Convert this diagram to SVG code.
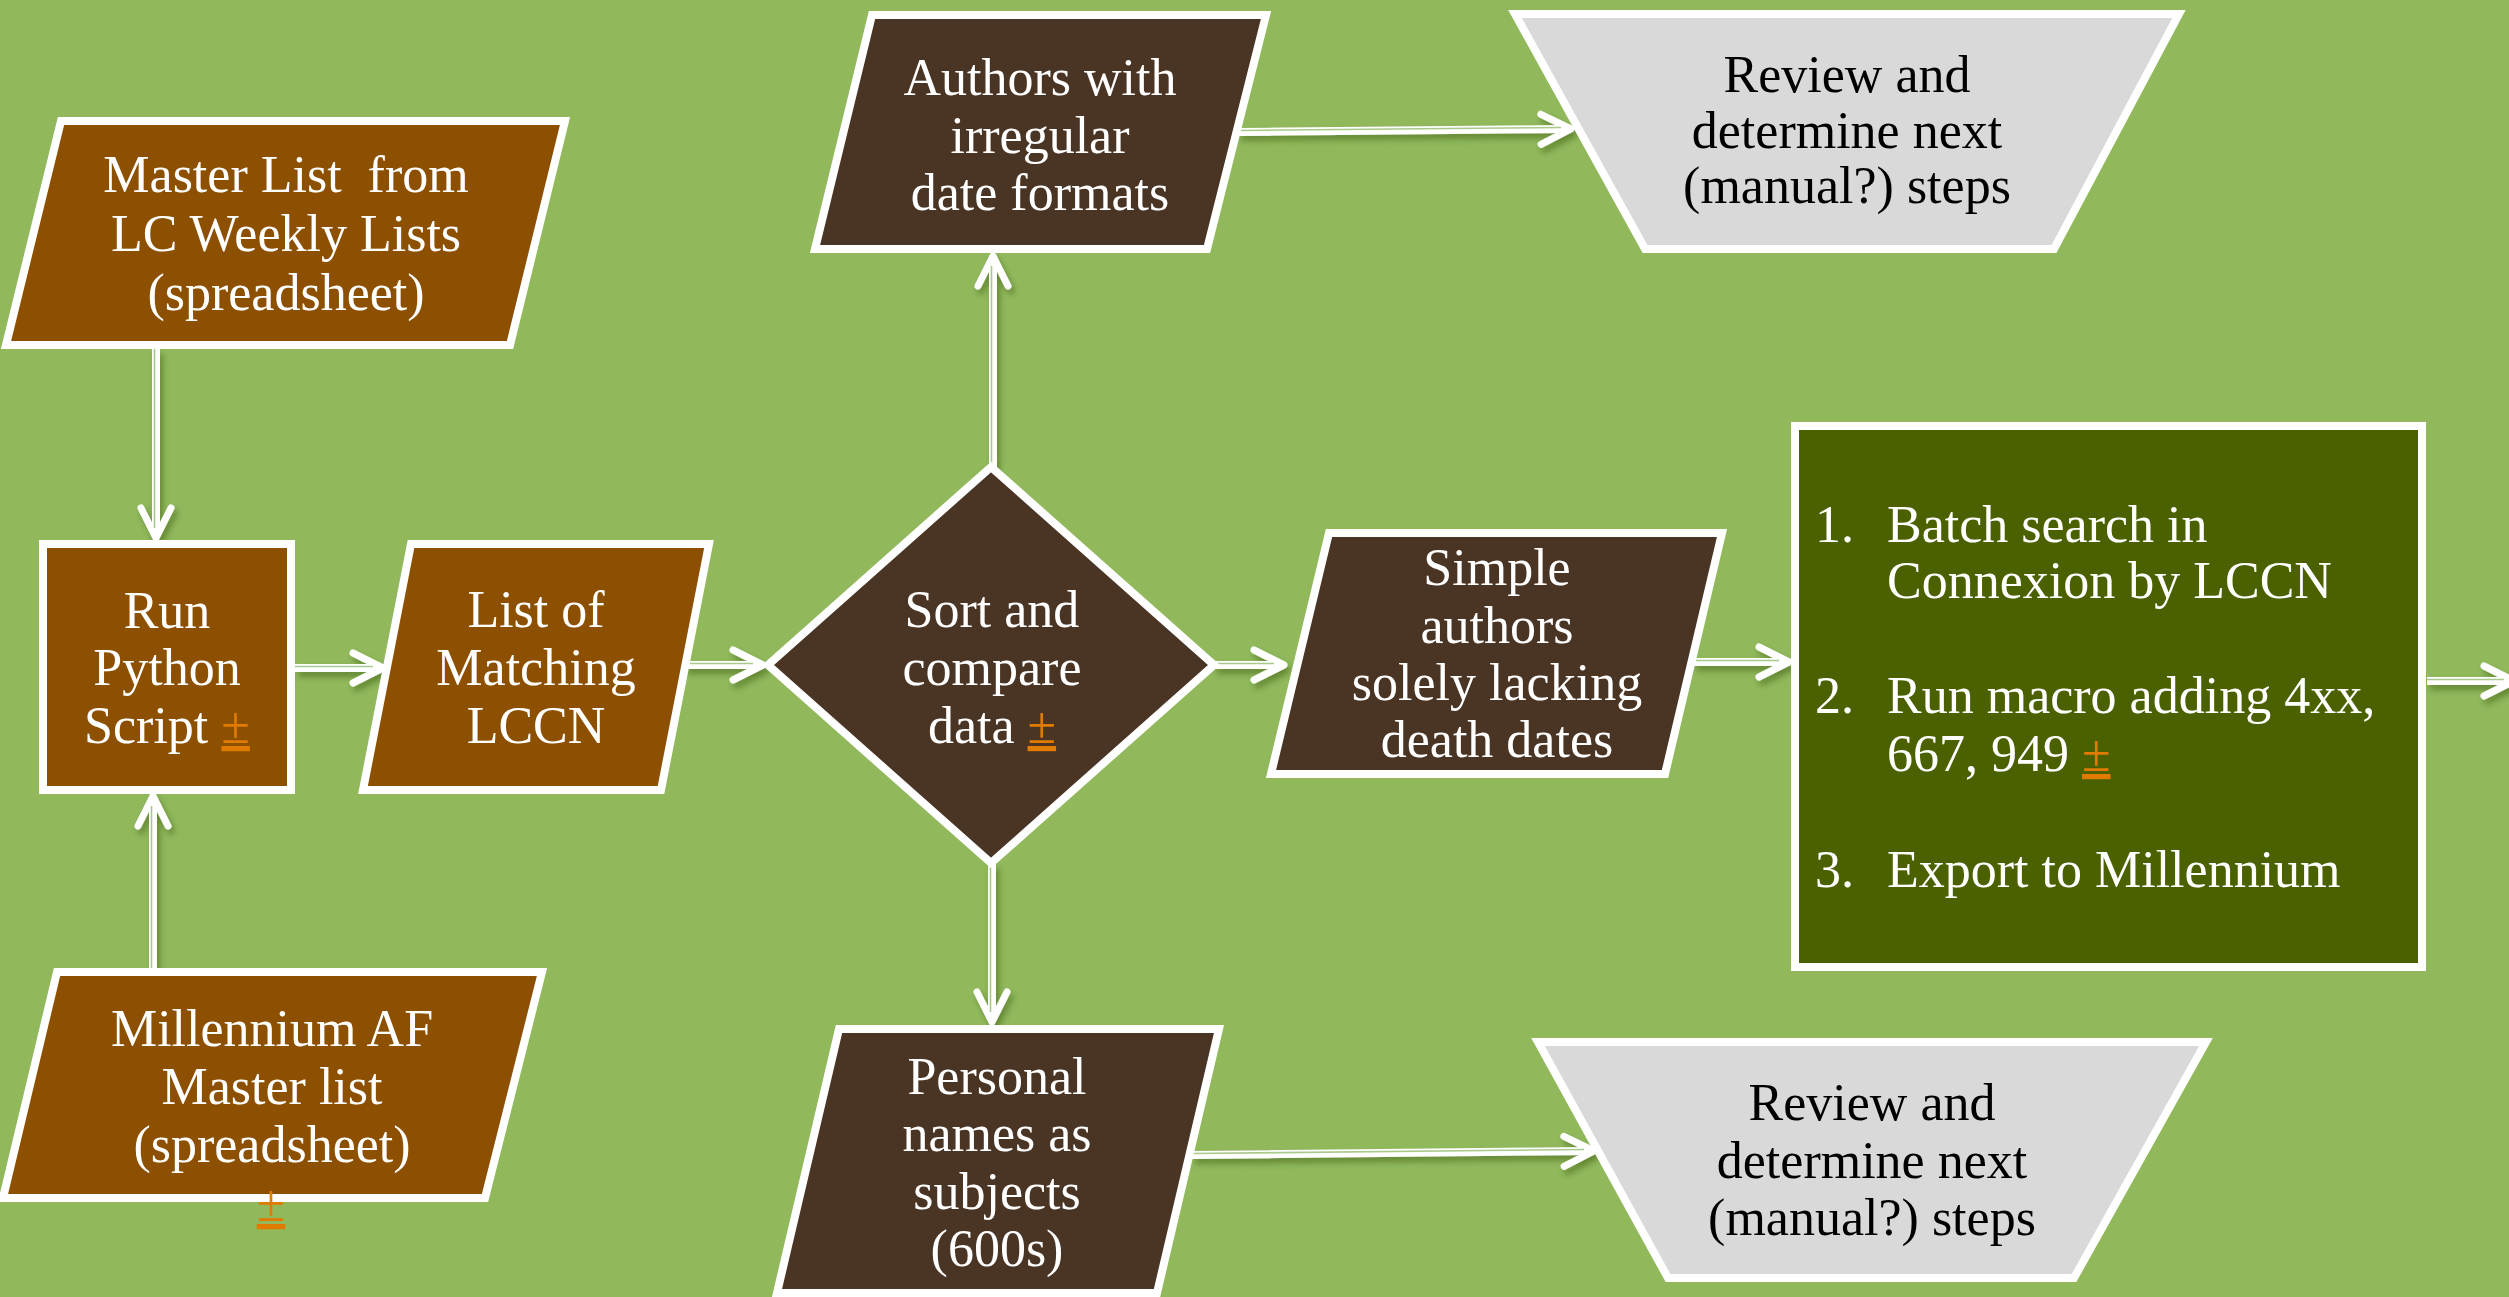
<svg xmlns="http://www.w3.org/2000/svg" width="2509" height="1297" viewBox="0 0 2509 1297">
<style>
.bg{fill:#91b95c}
.node{stroke:#fff;stroke-width:8;stroke-linejoin:miter}
.brown{fill:#8c5000}
.dark{fill:#4a3424}
.olive{fill:#4b6100}
.grey{fill:#d9d9d9}
.t{font-family:'Liberation Serif','Tinos','DejaVu Serif',serif;font-size:52px}
.w{fill:#fff;text-anchor:middle}
.k{fill:#000;text-anchor:middle}
.wl{fill:#fff}
.pm{fill:#e07b00;text-decoration:underline}
.shaft{fill:none;stroke:#fff;stroke-width:8}
.gap{fill:none;stroke:#a9c98a;stroke-width:1.6}
</style>
<defs>
<filter id="sh" x="-20%" y="-20%" width="140%" height="140%">
<feDropShadow dx="3" dy="5" stdDeviation="3" flood-color="#2d4a10" flood-opacity="0.45"/>
</filter>
<marker id="ah" markerUnits="userSpaceOnUse" viewBox="-40 -25 50 50" markerWidth="50" markerHeight="50" refX="0" refY="0" orient="auto" overflow="visible">
<path d="M-30,-15 L0,0 L-30,15" fill="none" stroke="#fff" stroke-width="7" stroke-linecap="round" stroke-linejoin="round"/>
</marker>
</defs>
<rect class="bg" x="0" y="0" width="2509" height="1297"/>

<g id="connectors" filter="url(#sh)">
<g id="c-master-run"><path class="shaft" d="M156,349 L156,538" marker-end="url(#ah)"/><path class="gap" d="M154.5,349 L154.5,528"/></g>
<g id="c-mill-run"><path class="shaft" d="M153,968 L153,796" marker-end="url(#ah)"/><path class="gap" d="M151.5,968 L151.5,806"/></g>
<g id="c-run-list"><path class="shaft" d="M295,668 L383,668" marker-end="url(#ah)"/><path class="gap" d="M295,666.5 L373,666.5"/></g>
<g id="c-list-sort"><path class="shaft" d="M684,665 L763,665" marker-end="url(#ah)"/><path class="gap" d="M684,663.5 L753,663.5"/></g>
<g id="c-sort-authors"><path class="shaft" d="M993,467 L993,256" marker-end="url(#ah)"/><path class="gap" d="M991.5,467 L991.5,266"/></g>
<g id="c-sort-personal"><path class="shaft" d="M992,863 L992,1022" marker-end="url(#ah)"/><path class="gap" d="M990.5,863 L990.5,1012"/></g>
<g id="c-sort-simple"><path class="shaft" d="M1214,665 L1284,665" marker-end="url(#ah)"/><path class="gap" d="M1214,663.5 L1274,663.5"/></g>
<g id="c-simple-green"><path class="shaft" d="M1693,662 L1789,662" marker-end="url(#ah)"/><path class="gap" d="M1693,660.5 L1779,660.5"/></g>
<g id="c-green-out"><path class="shaft" d="M2427,681 L2514,681" marker-end="url(#ah)"/><path class="gap" d="M2427,679.5 L2504,679.5"/></g>
<g id="c-authors-review"><path class="shaft" d="M1238,132 L1571,129" marker-end="url(#ah)"/><path class="gap" d="M1238,130.5 L1561,127.5"/></g>
<g id="c-personal-review"><path class="shaft" d="M1192,1155 L1594,1151" marker-end="url(#ah)"/><path class="gap" d="M1192,1153.5 L1584,1149.5"/></g>
</g>

<g id="master-list">
<polygon class="node brown" points="61,121 565,121 510,345 6,345"/>
<text class="t w" xml:space="preserve"><tspan x="286" y="192">Master List  from</tspan><tspan x="286" y="251">LC Weekly Lists</tspan><tspan x="286" y="310">(spreadsheet)</tspan></text>
</g>

<g id="run-python">
<rect class="node brown" x="43" y="544" width="248" height="246" stroke-width="9"/>
<text class="t w"><tspan x="167" y="628">Run</tspan><tspan x="167" y="685">Python</tspan><tspan x="167" y="743">Script <tspan class="pm">±</tspan></tspan></text>
</g>

<g id="millennium">
<polygon class="node brown" points="57,972 542,972 485,1198 3,1198"/>
<text class="t w"><tspan x="272" y="1046">Millennium AF</tspan><tspan x="272" y="1104">Master list</tspan><tspan x="272" y="1162">(spreadsheet)</tspan></text>
<text class="t w"><tspan class="pm" x="271" y="1221">±</tspan></text>
</g>

<g id="list-matching">
<polygon class="node brown" points="411,544 709,544 661,790 363,790"/>
<text class="t w"><tspan x="536" y="627">List of</tspan><tspan x="536" y="685">Matching</tspan><tspan x="536" y="743">LCCN</tspan></text>
</g>

<g id="sort-compare">
<polygon class="node dark" points="991,467 1214,665 991,863 768,665"/>
<text class="t w"><tspan x="992" y="627">Sort and</tspan><tspan x="992" y="685">compare</tspan><tspan x="992" y="743">data <tspan class="pm">±</tspan></tspan></text>
</g>

<g id="authors-irregular">
<polygon class="node dark" points="872,15 1266,15 1207,249 815,249"/>
<text class="t w"><tspan x="1040" y="95">Authors with</tspan><tspan x="1040" y="153">irregular</tspan><tspan x="1040" y="210">date formats</tspan></text>
</g>

<g id="review-top">
<polygon class="node grey" points="1515,14 2179,14 2054,249 1645,249"/>
<text class="t k"><tspan x="1847" y="92">Review and</tspan><tspan x="1847" y="148">determine next</tspan><tspan x="1847" y="203">(manual?) steps</tspan></text>
</g>

<g id="simple-authors">
<polygon class="node dark" points="1329,533 1722,533 1665,774 1271,774"/>
<text class="t w"><tspan x="1497" y="585">Simple</tspan><tspan x="1497" y="643">authors</tspan><tspan x="1497" y="700">solely lacking</tspan><tspan x="1497" y="757">death dates</tspan></text>
</g>

<g id="batch-steps">
<rect class="node olive" x="1795" y="426" width="627" height="541" stroke-width="9.5"/>
<text class="t wl"><tspan x="1815" y="542">1.</tspan><tspan x="1887" y="542">Batch search in</tspan><tspan x="1887" y="598">Connexion by LCCN</tspan><tspan x="1815" y="713">2.</tspan><tspan x="1887" y="713">Run macro adding 4xx,</tspan><tspan x="1887" y="771">667, 949 <tspan class="pm">±</tspan></tspan><tspan x="1815" y="887">3.</tspan><tspan x="1887" y="887">Export to Millennium</tspan></text>
</g>

<g id="personal-names">
<polygon class="node dark" points="839,1029 1219,1029 1157,1293 777,1293"/>
<text class="t w"><tspan x="997" y="1094">Personal</tspan><tspan x="997" y="1151">names as</tspan><tspan x="997" y="1209">subjects</tspan><tspan x="997" y="1266">(600s)</tspan></text>
</g>

<g id="review-bottom">
<polygon class="node grey" points="1538,1042 2206,1042 2074,1278 1668,1278"/>
<text class="t k"><tspan x="1872" y="1120">Review and</tspan><tspan x="1872" y="1178">determine next</tspan><tspan x="1872" y="1235">(manual?) steps</tspan></text>
</g>
</svg>
